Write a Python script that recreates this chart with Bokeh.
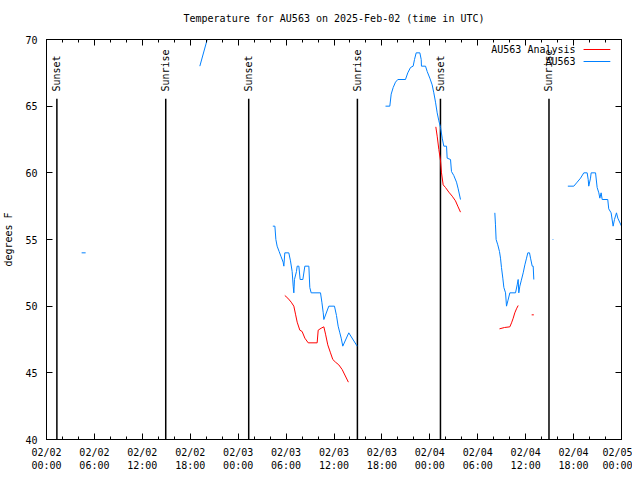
import numpy as np
import pandas as pd
from bokeh.plotting import figure
from bokeh.models import (FixedTicker, DatetimeTickFormatter, LinearAxis, DatetimeAxis, Range1d,
                          CustomLabelingPolicy)
from bokeh.embed import file_html
from bokeh.resources import INLINE
from bokeh.core.properties import value

nan = float("nan")
START = pd.Timestamp("2025-02-02 00:00")  # UTC
TITLE = "Temperature for AU563 on 2025-Feb-02 (time in UTC)"

# Observations (hours after START, degrees F); NaN = gap in data
obs_hours = [4.40, 4.90, nan,
             19.20, 20.40, nan,
             28.34, 28.60, 28.72, 28.88, 29.13, 29.38, 29.63, 29.72, 29.84, 30.34,
             30.55, 30.76, 30.89, 30.97, 31.05, 31.30, 31.39, 31.60, 31.76, 32.10,
             32.35, 32.85, 32.97, 33.14, 34.31, 34.48, 34.65, 34.73, 35.35, 36.06,
             36.31, 36.52, 36.73, 36.90, 37.10, 37.85, 38.90, nan,
             42.45, 42.99, 43.16, 43.41, 43.70, 43.99, 44.95, 45.24, 45.58, 45.91,
             46.08, 46.29, 46.75, 46.92, 46.95, 47.46, 47.67, 48.00, 48.29, 48.50,
             48.71, 48.92, 49.13, 49.34, 49.55, 49.75, 50.09, 50.17, 50.59, 50.71,
             51.00, 51.34, 51.55, 51.84, nan,
             56.14, 56.22, 56.30, 56.51, 56.72, 56.85, 56.97, 57.14, 57.27, 57.48,
             57.60, 57.77, 58.02, 58.73, 58.94, 59.06, 59.14, 59.27, 59.44, 59.69,
             59.90, 60.11, 60.27, 60.48, 60.61, 60.82, 60.94, 61.02, nan,
             63.38, 63.46, nan,
             65.28, 66.03, 66.45, 66.87, 67.28, 67.70, 67.83, 67.90, 68.12, 68.20,
             68.75, 68.95, 69.16, 69.29, 69.45, 69.58, 70.28, 70.40, 70.70, 70.95,
             71.12, 71.37, 71.54, 72.00]
obs_temps = [54.0, 54.0, nan,
             68.0, 70.6, nan,
             56.0, 56.0, 55.0, 54.5, 54.1, 53.7, 53.3, 53.0, 54.0, 54.0,
             53.4, 52.6, 51.5, 51.0, 52.0, 52.6, 53.0, 53.0, 52.0, 52.0,
             53.0, 53.0, 51.4, 51.0, 51.0, 50.3, 49.5, 49.0, 50.0, 50.0,
             49.3, 48.5, 48.0, 47.6, 47.0, 48.0, 47.0, nan,
             65.0, 65.0, 65.9, 66.4, 66.8, 67.0, 67.0, 67.5, 67.9, 68.0,
             68.5, 69.0, 69.0, 68.5, 68.0, 68.0, 67.6, 67.1, 66.6, 66.0,
             65.3, 64.5, 63.9, 63.4, 62.6, 62.0, 62.0, 61.1, 61.0, 60.1,
             59.8, 59.3, 58.8, 58.0, nan,
             57.0, 56.1, 55.0, 54.6, 54.1, 53.6, 52.9, 52.1, 51.4, 51.0,
             50.0, 50.4, 51.0, 51.0, 51.6, 52.0, 51.0, 51.5, 51.9, 52.5,
             53.1, 53.6, 54.0, 54.0, 53.6, 53.0, 53.0, 52.0, nan,
             55.0, 55.0, nan,
             59.0, 59.0, 59.3, 59.6, 60.0, 60.0, 59.5, 59.0, 59.6, 60.0,
             60.0, 58.9, 58.5, 58.1, 58.5, 58.0, 58.0, 57.3, 57.0, 56.0,
             56.5, 57.0, 56.6, 56.0]

# Analysis
ana_hours = [29.84, 30.22, 30.64, 30.97, 31.18, 31.39, 31.72, 32.01, 32.35, 32.77,
             33.89, 34.02, 34.40, 34.73, 34.94, 35.22, 35.56, 35.85, 36.19, 36.60,
             37.02, 37.80, nan,
             48.75, 48.92, 49.13, 49.34, 49.46, 49.67, 49.96, 50.38, 50.80, 51.21,
             51.50, 51.84, nan,
             56.72, 57.35, 58.02, 58.23, 58.44, 58.64, 58.85, 59.06, nan,
             60.75, 61.02]
ana_temps = [50.8, 50.6, 50.3, 50.0, 49.4, 48.8, 48.2, 48.1, 47.6, 47.25,
             47.25, 48.2, 48.35, 48.45, 47.9, 47.1, 46.5, 46.0, 45.8, 45.6,
             45.25, 44.3, nan,
             63.45, 62.75, 61.75, 60.9, 60.0, 59.1, 58.9, 58.55, 58.25, 57.9,
             57.5, 57.05, nan,
             48.3, 48.4, 48.45, 48.75, 49.1, 49.5, 49.8, 50.05, nan,
             49.35, 49.35]

sun_events = ["Sunset", "Sunrise", "Sunset", "Sunrise", "Sunset", "Sunrise"]
sun_hours = [1.30, 14.93, 25.32, 38.93, 49.33, 62.92]

series_names = ["AU563 Analysis", "AU563"]
series_colors = ["#ff0000", "#0080ff"]

# ---------------------------------------------------------------
FONT = "DejaVu Sans Mono"
FS = "10px"
H = 3.6e6
t0 = START.value / 1e6


def to_ms(hours):
    return t0 + np.asarray(hours, dtype=float) * H


p = figure(x_axis_type="datetime",
           x_range=Range1d(t0, t0 + 72 * H), y_range=Range1d(40, 70),
           frame_width=575, frame_height=400,
           min_border_left=38, min_border_right=11, min_border_top=32, min_border_bottom=34,
           output_backend="svg", toolbar_location=None, title=TITLE)
p.background_fill_color = "white"
p.border_fill_color = "white"
p.outline_line_color = "black"
p.outline_line_width = 1
p.xgrid.visible = False
p.ygrid.visible = False

p.title.text_font = FONT
p.title.text_font_size = FS
p.title.text_font_style = "normal"
p.title.text_color = "black"
p.title.align = "center"
p.title.standoff = 12
p.title.padding = 4

bottom = p.below[0]
left = p.left[0]

major = list(t0 + np.arange(0, 73, 6) * H)
minor = list(t0 + np.arange(0, 73, 2) * H)
fmt = "%m/%d\n%H:%M"
xfmt = DatetimeTickFormatter(hours=fmt, hourmin=fmt, days=fmt, months=fmt, minutes=fmt,
                             minsec=fmt, seconds=fmt, milliseconds=fmt, microseconds=fmt,
                             years=fmt, context=None)
yticks = FixedTicker(ticks=[40, 45, 50, 55, 60, 65, 70], minor_ticks=[])
xticks = FixedTicker(ticks=major, minor_ticks=minor)

top = DatetimeAxis()
right = LinearAxis()
p.add_layout(top, "above")
p.add_layout(right, "right")

for ax in [bottom, top]:
    ax.ticker = xticks
    ax.formatter = xfmt
for ax in [left, right]:
    ax.ticker = yticks

for ax in [bottom, top, left, right]:
    ax.axis_line_color = "black"
    ax.major_tick_line_color = "black"
    ax.minor_tick_line_color = "black"
    ax.major_tick_in = 6
    ax.major_tick_out = 0
    ax.minor_tick_in = 3
    ax.minor_tick_out = 0
    ax.major_label_text_font = FONT
    ax.major_label_text_font_size = FS
    ax.major_label_text_color = "black"

# mirror axes: ticks only, no labels
for ax in [top, right]:
    ax.major_label_text_font_size = "1px"
    ax.major_label_standoff = 0
    ax.major_label_policy = CustomLabelingPolicy(code="for (const i of indices) indices.unset(i)")

bottom.major_label_standoff = 7
left.major_label_standoff = 9
left.axis_label = "degrees F"
left.axis_label_text_font = FONT
left.axis_label_text_font_size = FS
left.axis_label_text_font_style = "normal"
left.axis_label_text_color = "black"
left.axis_label_standoff = 8

# sunrise / sunset markers
sx = to_ms(sun_hours)
p.segment(x0=sx, y0=[40] * len(sx), x1=sx, y1=[65.55] * len(sx), line_color="black", line_width=1.5)
p.text(x=sx, y=[66.1] * len(sx), text=sun_events, angle=np.pi / 2,
       text_align="left", text_baseline="middle",
       text_font=value(FONT), text_font_size=FS, text_color="black")

# data
p.line(to_ms(ana_hours), ana_temps, line_color=series_colors[0], line_width=1)
p.line(to_ms(obs_hours), obs_temps, line_color=series_colors[1], line_width=1)

# gnuplot-style key (text then sample line), top right
key_text_x = to_ms([66.25] * 2)
key_line_x0 = to_ms([67.25])
key_line_x1 = to_ms([70.6])
key_y = [69.25, 68.35]
p.text(x=key_text_x, y=key_y, text=series_names, text_align="right", text_baseline="middle",
       text_font=value(FONT), text_font_size=FS, text_color="black")
for i in range(2):
    p.segment(x0=key_line_x0, y0=[key_y[i]], x1=key_line_x1, y1=[key_y[i]],
              line_color=series_colors[i], line_width=1)

open("out.html", "w").write(file_html(p, INLINE))
